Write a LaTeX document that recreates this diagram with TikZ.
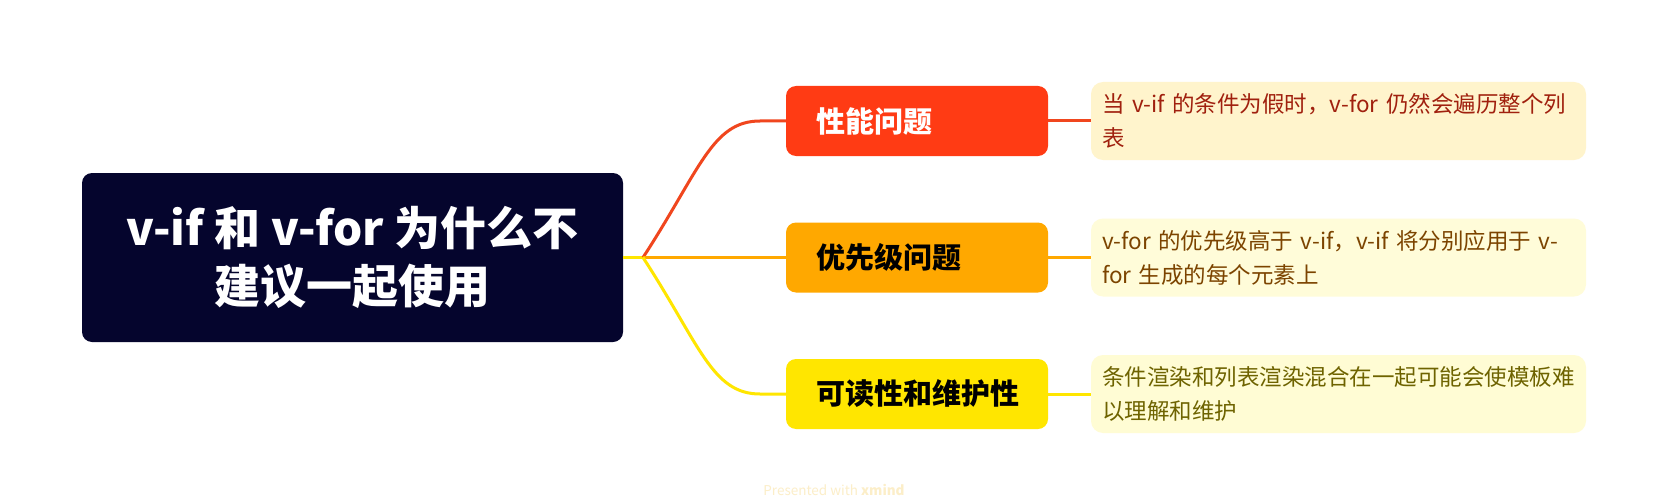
\documentclass[tikz,border=0pt]{standalone}
\usepackage{fontspec}
\setmainfont{Noto Sans CJK SC}
\definecolor{rootc}{RGB}{5,5,45}
\definecolor{redc}{RGB}{255,59,20}
\definecolor{redl}{RGB}{240,70,30}
\definecolor{orac}{RGB}{255,168,0}
\definecolor{yelc}{RGB}{255,230,0}
\definecolor{leafa}{RGB}{255,244,204}
\definecolor{leafb}{RGB}{255,252,217}
\definecolor{leafc}{RGB}{255,252,212}
\definecolor{txta}{RGB}{160,32,14}
\definecolor{txtb}{RGB}{124,68,0}
\definecolor{txtc}{RGB}{110,99,0}
\definecolor{wmc}{RGB}{252,238,200}
\begin{document}
\begin{tikzpicture}[x=1pt,y=-1pt,
  rootbox/.style={fill=rootc, rounded corners=10pt, text=white, align=center,
    minimum width=541pt, minimum height=169pt, inner sep=0pt,
    font=\bfseries\fontsize{46}{58}\selectfont},
  branchbox/.style={rounded corners=10pt, text width=202pt, inner xsep=30pt,
    minimum height=70pt, align=left, font=\bfseries\fontsize{29}{35}\selectfont},
  leafbox/.style={rounded corners=12pt, text width=473pt, inner xsep=11pt,
    minimum height=78pt, align=left, font=\fontsize{22.5}{34}\selectfont},
  conn/.style={line width=3pt}]
\fill[white] (0,0) rectangle (1669,500);
\useasboundingbox (0,0) rectangle (1669,500);

\node[rootbox] (root) at (352.5,257.5) {v-if 和 v-for 为什么不\\建议一起使用};
\coordinate (bp) at (643,257.5);

\node[branchbox, fill=redc, text=white] (b1) at (917,121) {性能问题};
\node[branchbox, fill=orac, text=black] (b2) at (917,257.5) {优先级问题};
\node[branchbox, fill=yelc, text=black] (b3) at (917,394) {可读性和维护性};

\node[leafbox, fill=leafa, text=txta] (l1) at (1338.5,121) {当 v-if 的条件为假时，v-for 仍然会遍历整个列\\表};
\node[leafbox, fill=leafb, text=txtb] (l2) at (1338.5,257.5) {v-for 的优先级高于 v-if，v-if 将分别应用于 v-\\for 生成的每个元素上};
\node[leafbox, fill=leafc, text=txtc] (l3) at (1338.5,394) {条件渲染和列表渲染混合在一起可能会使模板难\\以理解和维护};

\draw[conn, yelc] (root.east) -- (bp);
\draw[conn, redl] (bp) .. controls (700,170) and (712,121) .. (760,121) -- (b1.west);
\draw[conn, orac] (bp) -- (b2.west);
\draw[conn, yelc] (bp) .. controls (700,345) and (712,394) .. (760,394) -- (b3.west);

\draw[conn, redl] (b1.east) -- (l1.west);
\draw[conn, orac] (b2.east) -- (l2.west);
\draw[conn, yelc] (b3.east) -- (l3.west);

\node[text=wmc, font=\fontsize{13.5}{16}\selectfont] (wm) at (834,490) {Presented with \textbf{xmind}};
\end{tikzpicture}
\end{document}
